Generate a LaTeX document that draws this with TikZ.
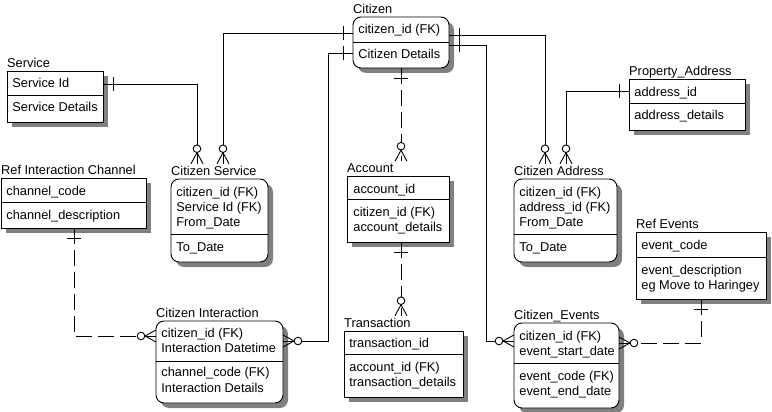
\documentclass[tikz,border=0pt]{standalone}
\usepackage{fontspec}
\setmainfont{Liberation Sans}
\usetikzlibrary{shadows,calc}
\tikzset{
  ent/.style={draw, fill=white, line width=0.9pt, inner sep=0pt, outer sep=0pt, anchor=north west,
    drop shadow={shadow xshift=5pt, shadow yshift=-5pt, fill=black!50, opacity=1, draw=none}},
  rnd/.style={rounded corners=8pt},
  ttl/.style={anchor=base west, inner sep=0pt, outer ysep=2.5pt},
  attr/.style={anchor=base west, inner sep=0pt, xshift=-0.8pt},
  divl/.style={line width=0.9pt},
  idrel/.style={line width=0.9pt},
  nonid/.style={line width=0.9pt, dash pattern=on 16pt off 6pt},
  zmany/.pic={\draw[line width=0.9pt, solid] (-11,0) -- (0,6) (-11,0) -- (0,-6);
              \draw[line width=0.9pt, solid, fill=white] (-15,0) circle (3.8pt);},
  onebar/.pic={\draw[line width=0.9pt, solid] (-10,-7) -- (-10,7);}
}
\begin{document}
\begin{tikzpicture}[x=1pt, y=-1pt, every node/.style={font=\fontsize{12.8pt}{15pt}\selectfont}]
\useasboundingbox (0,0) rectangle (772,412);

% ---------- Citizen ----------
\node[ent, rnd, minimum width=96pt, minimum height=51pt] (cz) at (353,17) {};
\draw[divl] ($(cz.north west)+(0,25)$) -- ($(cz.north east)+(0,25)$);
\node[ttl] (czt) at (353,13.5) {Citizen};
\node[attr] (cz1) at (359,34) {citizen\_id (FK)};
\node[attr] (cz2) at (359,59) {Citizen Details};

% ---------- Service ----------
\node[ent, minimum width=96pt, minimum height=51pt] (sv) at (7,71) {};
\draw[divl] ($(sv.north west)+(0,24)$) -- ($(sv.north east)+(0,24)$);
\node[ttl] (svt) at (7,67.5) {Service};
\node[attr] (sv1) at (13,88) {Service Id};
\node[attr] (sv2) at (13,112) {Service Details};

% ---------- Ref Interaction Channel ----------
\node[ent, minimum width=145pt, minimum height=50pt] (ric) at (1,178) {};
\draw[divl] ($(ric.north west)+(0,24)$) -- ($(ric.north east)+(0,24)$);
\node[ttl] (rict) at (1,174.5) {Ref Interaction Channel};
\node[attr] (ric1) at (7,195) {channel\_code};
\node[attr] (ric2) at (7,219) {channel\_description};

% ---------- Citizen Service ----------
\node[ent, rnd, minimum width=97pt, minimum height=83pt] (cs) at (171,179) {};
\draw[divl] ($(cs.north west)+(0,55)$) -- ($(cs.north east)+(0,55)$);
\node[ttl] (cst) at (171,175.5) {Citizen Service};
\node[attr] (cs1) at (177,196) {citizen\_id (FK)};
\node[attr] (cs2) at (177,211.3) {Service Id (FK)};
\node[attr] (cs3) at (177,226.6) {From\_Date};
\node[attr] (cs4) at (177,251) {To\_Date};

% ---------- Citizen Interaction ----------
\node[ent, rnd, minimum width=127pt, minimum height=82pt] (ci) at (156,321) {};
\draw[divl] ($(ci.north west)+(0,40)$) -- ($(ci.north east)+(0,40)$);
\node[ttl] (cit) at (156,317.5) {Citizen Interaction};
\node[attr] (ci1) at (162,337) {citizen\_id (FK)};
\node[attr] (ci2) at (162,352.5) {Interaction Datetime};
\node[attr] (ci3) at (162,376.5) {channel\_code (FK)};
\node[attr] (ci4) at (162,392) {Interaction Details};

% ---------- Account ----------
\node[ent, minimum width=102pt, minimum height=66pt] (ac) at (347,176) {};
\draw[divl] ($(ac.north west)+(0,23)$) -- ($(ac.north east)+(0,23)$);
\node[ttl] (act) at (347,172.5) {Account};
\node[attr] (ac1) at (354,193) {account\_id};
\node[attr] (ac2) at (354,216.5) {citizen\_id (FK)};
\node[attr] (ac3) at (354,231.5) {account\_details};

% ---------- Transaction ----------
\node[ent, minimum width=119pt, minimum height=66pt] (tr) at (344,331) {};
\draw[divl] ($(tr.north west)+(0,23)$) -- ($(tr.north east)+(0,23)$);
\node[ttl] (trt) at (344,327.5) {Transaction};
\node[attr] (tr1) at (350,347.5) {transaction\_id};
\node[attr] (tr2) at (350,371) {account\_id (FK)};
\node[attr] (tr3) at (350,386.5) {transaction\_details};

% ---------- Citizen Address ----------
\node[ent, rnd, minimum width=103pt, minimum height=83pt] (ca) at (514,179) {};
\draw[divl] ($(ca.north west)+(0,55)$) -- ($(ca.north east)+(0,55)$);
\node[ttl] (cat) at (514,175.5) {Citizen Address};
\node[attr] (ca1) at (520,196) {citizen\_id (FK)};
\node[attr] (ca2) at (520,211.3) {address\_id (FK)};
\node[attr] (ca3) at (520,226.6) {From\_Date};
\node[attr] (ca4) at (520,251) {To\_Date};

% ---------- Ref Events ----------
\node[ent, minimum width=130pt, minimum height=67pt] (re) at (636,232) {};
\draw[divl] ($(re.north west)+(0,25)$) -- ($(re.north east)+(0,25)$);
\node[ttl] (ret) at (636,228.5) {Ref Events};
\node[attr] (re1) at (642,249) {event\_code};
\node[attr] (re2) at (642,274) {event\_description};
\node[attr] (re3) at (642,289) {eg Move to Haringey};

% ---------- Citizen_Events ----------
\node[ent, rnd, minimum width=105pt, minimum height=85pt] (ce) at (514,323) {};
\draw[divl] ($(ce.north west)+(0,40)$) -- ($(ce.north east)+(0,40)$);
\node[ttl] (cet) at (514,319.5) {Citizen\_Events};
\node[attr] (ce1) at (520,340) {citizen\_id (FK)};
\node[attr] (ce2) at (520,355.5) {event\_start\_date};
\node[attr] (ce3) at (520,380) {event\_code (FK)};
\node[attr] (ce4) at (520,395.5) {event\_end\_date};

% ---------- Property_Address ----------
\node[ent, minimum width=116pt, minimum height=51pt] (pa) at (629,79) {};
\draw[divl] ($(pa.north west)+(0,24)$) -- ($(pa.north east)+(0,24)$);
\node[ttl] (pat) at (629,75.5) {Property\_Address};
\node[attr] (pa1) at (635,96) {address\_id};
\node[attr] (pa2) at (635,120) {address\_details};

% ---------- Relationships ----------
% Citizen -> Citizen Service
\coordinate (k1) at (223,33);
\draw[idrel] (cz.west |- k1) -- (k1) -- (k1 |- cst.north);
\pic[rotate=0] at (cz.west |- k1) {onebar};
\pic[rotate=-90] at (k1 |- cst.north) {zmany};

% Service -> Citizen Service
\coordinate (k2) at (197,84);
\draw[idrel] (sv.east |- k2) -- (k2) -- (k2 |- cst.north);
\pic[rotate=180] at (sv.east |- k2) {onebar};
\pic[rotate=-90] at (k2 |- cst.north) {zmany};

% Citizen -> Citizen Interaction
\coordinate (k3a) at (328,53);
\coordinate (k3b) at (328,341);
\draw[idrel] (cz.west |- k3a) -- (k3a) -- (k3b) -- (ci.east |- k3b);
\pic[rotate=0] at (cz.west |- k3a) {onebar};
\pic[rotate=180] at (ci.east |- k3b) {zmany};

% Citizen -> Account
\coordinate (k4) at (401,0);
\draw[nonid] (k4 |- cz.south) -- (k4 |- act.north);
\pic[rotate=90] at (k4 |- cz.south) {onebar};
\pic[rotate=-90] at (k4 |- act.north) {zmany};

% Citizen -> Citizen Address
\coordinate (k5) at (545,35);
\draw[idrel] (cz.east |- k5) -- (k5) -- (k5 |- cat.north);
\pic[rotate=180] at (cz.east |- k5) {onebar};
\pic[rotate=-90] at (k5 |- cat.north) {zmany};

% Citizen -> Citizen_Events
\coordinate (k6a) at (486,45);
\coordinate (k6b) at (486,341);
\draw[idrel] (cz.east |- k6a) -- (k6a) -- (k6b) -- (ce.west |- k6b);
\pic[rotate=180] at (cz.east |- k6a) {onebar};
\pic[rotate=0] at (ce.west |- k6b) {zmany};

% Property_Address -> Citizen Address
\coordinate (k7) at (566,91);
\draw[idrel] (pa.west |- k7) -- (k7) -- (k7 |- cat.north);
\pic[rotate=0] at (pa.west |- k7) {onebar};
\pic[rotate=-90] at (k7 |- cat.north) {zmany};

% Ref Interaction Channel -> Citizen Interaction
\coordinate (k8a) at (74,0);
\coordinate (k8b) at (74,336);
\draw[nonid] (k8a |- ric.south) -- (k8b) -- (ci.west |- k8b);
\pic[rotate=90] at (k8a |- ric.south) {onebar};
\pic[rotate=0] at (ci.west |- k8b) {zmany};

% Account -> Transaction
\coordinate (k9) at (401,0);
\draw[nonid] (k9 |- ac.south) -- (k9 |- trt.north);
\pic[rotate=90] at (k9 |- ac.south) {onebar};
\pic[rotate=-90] at (k9 |- trt.north) {zmany};

% Ref Events -> Citizen_Events
\coordinate (k10a) at (701,0);
\coordinate (k10b) at (701,343);
\draw[nonid] (k10a |- re.south) -- (k10b) -- (ce.east |- k10b);
\pic[rotate=90] at (k10a |- re.south) {onebar};
\pic[rotate=180] at (ce.east |- k10b) {zmany};
\end{tikzpicture}
\end{document}
